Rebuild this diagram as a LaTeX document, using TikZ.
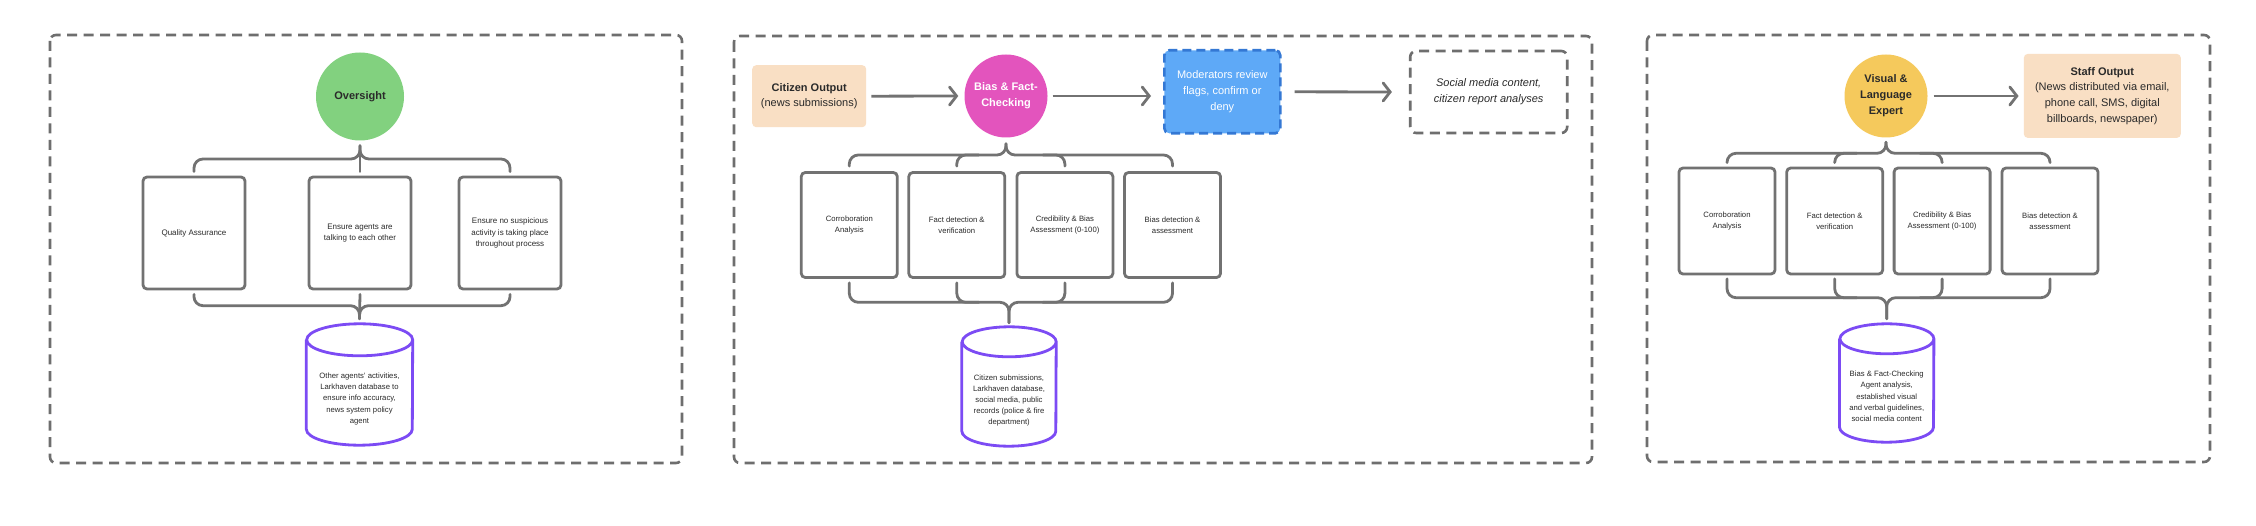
\documentclass[tikz,border=0pt]{standalone}
\usepackage{fontspec}
\setmainfont{Liberation Sans}
\usetikzlibrary{arrows.meta,calc}
\definecolor{gcol}{HTML}{727272}
\definecolor{pcol}{HTML}{6E6E6E}
\definecolor{txt}{HTML}{2A2A2A}
\definecolor{green1}{HTML}{82D17F}
\definecolor{magenta1}{HTML}{E354BD}
\definecolor{yellow1}{HTML}{F5C95C}
\definecolor{peach}{HTML}{F9DFC4}
\definecolor{blue1}{HTML}{5EA9F7}
\definecolor{blue2}{HTML}{3478D4}
\definecolor{purp}{HTML}{7C4BF4}
\tikzset{
  panel/.style={draw=pcol, line width=2.6pt, dash pattern=on 10pt off 6.5pt, rounded corners=6pt},
  card/.style={rectangle, draw=gcol, line width=2.8pt, rounded corners=4pt, fill=white, inner sep=1pt,
    align=center, text=txt, font=\fontsize{7.7}{11}\selectfont},
  hub/.style={circle, inner sep=0pt, align=center, font=\bfseries\fontsize{11}{16}\selectfont},
  outbox/.style={rectangle, rounded corners=4pt, fill=peach, inner sep=0pt, align=center, text=txt,
    font=\fontsize{11}{15.8}\selectfont},
  brace/.style={draw=gcol, line width=2.8pt, rounded corners=9pt, line cap=round},
  arr/.style={draw=gcol, line width=2.8pt, -{Straight Barb[length=7pt,width=18pt,line cap=round]}},
  dbbox/.style={rectangle, inner sep=0pt},
  dbline/.style={draw=purp, line width=2.8pt},
  dbtext/.style={align=center, text=txt, font=\fontsize{7.7}{11.2}\selectfont},
}
\begin{document}
\begin{tikzpicture}[x=1pt,y=-1pt]
\fill[white] (0,0) rectangle (2256,526);
\useasboundingbox (0,0) rectangle (2256,526);

% ---------------- panels ----------------
\draw[panel] (50,35) rectangle (682,463);
\draw[panel] (734,36) rectangle (1592,463);
\draw[panel] (1647,35) rectangle (2210,462);

% ================= Panel 1 =================
\node[hub, fill=green1, minimum size=88pt, text=txt] (c1) at (360,96.5) {Oversight};
\node[card, minimum width=102pt, minimum height=112pt, font=\fontsize{8}{11.7}\selectfont] (b11) at (194,233) {Quality Assurance};
\node[card, minimum width=102pt, minimum height=112pt, font=\fontsize{8}{11.7}\selectfont] (b12) at (360,233) {Ensure agents are\\talking to each other};
\node[card, minimum width=102pt, minimum height=112pt, font=\fontsize{8}{11.7}\selectfont] (b13) at (510,233) {Ensure no suspicious\\activity is taking place\\throughout process};
\node[dbbox, minimum width=106pt, minimum height=121pt] (db1) at (359.5,384.5) {};
\draw[dbline] ([yshift=-16pt]db1.north west) -- ([yshift=16pt]db1.south west)
  arc[start angle=180, end angle=360, x radius=53pt, y radius=16pt]
  -- ([yshift=-16pt]db1.north east)
  arc[start angle=0, end angle=360, x radius=53pt, y radius=16pt];
\node[dbtext] (db1t) at (359.5,399) {Other agents’ activities,\\Larkhaven database to\\ensure info accuracy,\\news system policy\\agent};

% top brace panel 1
\coordinate (t1p) at ([yshift=-5pt]c1.south);
\coordinate (t1h) at (0,159);
\draw[brace] ([yshift=4pt]b11.north) |- (t1p |- t1h) -- (t1p);
\draw[brace] ([yshift=4pt]b13.north) |- (t1p |- t1h) -- (t1p);
\draw[brace] ([yshift=4pt]b12.north) -- (t1p);
% bottom brace panel 1
\coordinate (u1p) at ([yshift=5pt]db1.north);
\coordinate (u1h) at (0,305.7);
\draw[brace] ([yshift=-4pt]b11.south) |- (u1p |- u1h) -- (u1p);
\draw[brace] ([yshift=-4pt]b13.south) |- (u1p |- u1h) -- (u1p);
\draw[brace] ([yshift=-4pt]b12.south) -- (u1p);

% ================= Panel 2 =================
\node[outbox, minimum width=114pt, minimum height=62pt] (cit) at (809.2,96.2) {\textbf{Citizen Output}\\(news submissions)};
\node[hub, fill=magenta1, minimum size=83pt, text=white] (bias) at (1006,96) {Bias \& Fact-\\Checking};
\node[rectangle, fill=blue1, draw=blue2, line width=2.6pt, dash pattern=on 9pt off 5pt, rounded corners=5pt,
  minimum width=116pt, minimum height=83pt, align=center, text=white, font=\fontsize{11}{16}\selectfont] (mod) at (1222.3,91.8) {Moderators review\\flags, confirm or\\deny};
\node[rectangle, draw=pcol, line width=2.6pt, dash pattern=on 10pt off 6.5pt, rounded corners=6pt,
  minimum width=157pt, minimum height=82pt, align=center, text=txt, font=\itshape\fontsize{11}{16}\selectfont] (soc) at (1488.7,92) {Social media content,\\citizen report analyses};
\draw[arr, shorten <=5pt, shorten >=6pt] (cit.east) -- (bias.west);
\draw[arr, shorten <=5pt, shorten >=12pt] (bias.east) -- (bias.east -| mod.west);
\draw[arr, shorten <=13pt, shorten >=17pt] (mod.east) -- (soc.west);

\node[card, minimum width=96pt, minimum height=105pt] (b21) at (849.3,225) {Corroboration\\Analysis};
\node[card, minimum width=96pt, minimum height=105pt] (b22) at (956.8,225) {Fact detection \&\\verification};
\node[card, minimum width=96pt, minimum height=105pt] (b23) at (1064.9,225) {Credibility \& Bias\\Assessment (0-100)};
\node[card, minimum width=96pt, minimum height=105pt] (b24) at (1172.5,225) {Bias detection \&\\assessment};

\node[dbbox, minimum width=94pt, minimum height=119pt] (db2) at (1009,386.5) {};
\draw[dbline] ([yshift=-15pt]db2.north west) -- ([yshift=15pt]db2.south west)
  arc[start angle=180, end angle=360, x radius=47pt, y radius=15pt]
  -- ([yshift=-15pt]db2.north east)
  arc[start angle=0, end angle=360, x radius=47pt, y radius=15pt];
\node[dbtext] (db2t) at (1009,400.5) {Citizen submissions,\\Larkhaven database,\\social media, public\\records (police \& fire\\department)};

\coordinate (t2p) at ([yshift=-6pt]bias.south);
\coordinate (t2h) at (0,155);
\draw[brace] ([yshift=5pt]b21.north) |- (t2p |- t2h) -- (t2p);
\draw[brace] ([yshift=5pt]b24.north) |- (t2p |- t2h) -- (t2p);
\draw[brace] ([yshift=5pt]b22.north) |- ($(b22 |- t2h)+(22,0)$);
\draw[brace] ([yshift=5pt]b23.north) |- ($(b23 |- t2h)+(-22,0)$);
\coordinate (u2p) at ([yshift=4pt]db2.north);
\coordinate (u2h) at (0,302.3);
\draw[brace] ([yshift=-4pt]b21.south) |- (u2p |- u2h) -- (u2p);
\draw[brace] ([yshift=-4pt]b24.south) |- (u2p |- u2h) -- (u2p);
\draw[brace] ([yshift=-4pt]b22.south) |- ($(b22 |- u2h)+(22,0)$);
\draw[brace] ([yshift=-4pt]b23.south) |- ($(b23 |- u2h)+(-22,0)$);

% ================= Panel 3 =================
\node[hub, fill=yellow1, minimum size=83pt, text=txt] (vis) at (1886,96) {Visual \&\\Language\\Expert};
\node[outbox, minimum width=157pt, minimum height=84pt] (staff) at (2102.3,95.9) {\textbf{Staff Output}\\(News distributed via email,\\phone call, SMS, digital\\billboards, newspaper)};
\draw[arr, shorten <=6pt, shorten >=5pt] (vis.east) -- (vis.east -| staff.west);

\node[card, minimum width=96pt, minimum height=106pt] (b31) at (1727,221) {Corroboration\\Analysis};
\node[card, minimum width=96pt, minimum height=106pt] (b32) at (1834.7,221) {Fact detection \&\\verification};
\node[card, minimum width=96pt, minimum height=106pt] (b33) at (1942.1,221) {Credibility \& Bias\\Assessment (0-100)};
\node[card, minimum width=96pt, minimum height=106pt] (b34) at (2050,221) {Bias detection \&\\assessment};

\node[dbbox, minimum width=94pt, minimum height=118pt] (db3) at (1886.7,383) {};
\draw[dbline] ([yshift=-15pt]db3.north west) -- ([yshift=15pt]db3.south west)
  arc[start angle=180, end angle=360, x radius=47pt, y radius=15pt]
  -- ([yshift=-15pt]db3.north east)
  arc[start angle=0, end angle=360, x radius=47pt, y radius=15pt];
\node[dbtext] (db3t) at (1886.7,396.4) {Bias \& Fact-Checking\\Agent analysis,\\established visual\\and verbal guidelines,\\social media content};

\coordinate (t3p) at ([yshift=-4.5pt]vis.south);
\coordinate (t3h) at (0,153.3);
\draw[brace] ([yshift=4pt]b31.north) |- (t3p |- t3h) -- (t3p);
\draw[brace] ([yshift=4pt]b34.north) |- (t3p |- t3h) -- (t3p);
\draw[brace] ([yshift=4pt]b32.north) |- ($(b32 |- t3h)+(22,0)$);
\draw[brace] ([yshift=4pt]b33.north) |- ($(b33 |- t3h)+(-22,0)$);
\coordinate (u3p) at ([yshift=5pt]db3.north);
\coordinate (u3h) at (0,297.7);
\draw[brace] ([yshift=-3.5pt]b31.south) |- (u3p |- u3h) -- (u3p);
\draw[brace] ([yshift=-3.5pt]b34.south) |- (u3p |- u3h) -- (u3p);
\draw[brace] ([yshift=-3.5pt]b32.south) |- ($(b32 |- u3h)+(22,0)$);
\draw[brace] ([yshift=-3.5pt]b33.south) |- ($(b33 |- u3h)+(-22,0)$);
\end{tikzpicture}
\end{document}
